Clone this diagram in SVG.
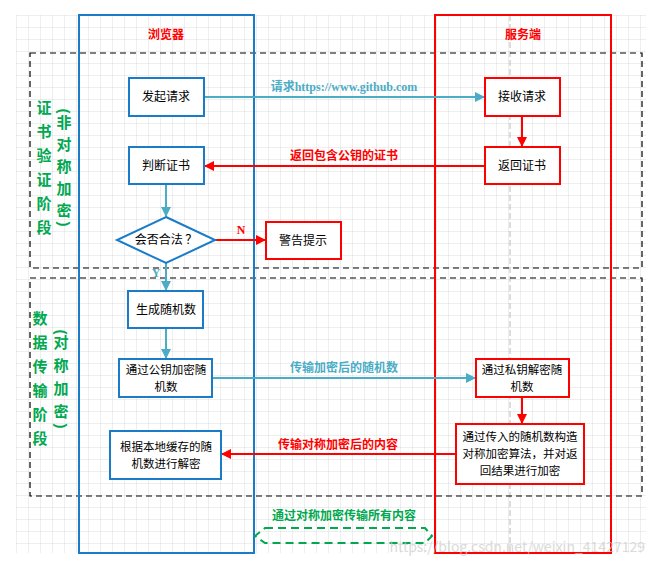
<svg xmlns="http://www.w3.org/2000/svg" width="659" height="563" viewBox="0 0 659 563">
<defs>
<pattern id="grid" width="12" height="12" patternUnits="userSpaceOnUse" x="16" y="15"><path d="M12 0H0V12" fill="none" stroke="#d6d6d6" stroke-width="0.8"/></pattern>
<marker id="ab" markerWidth="10" markerHeight="10" refX="9" refY="5" orient="auto" markerUnits="userSpaceOnUse"><path d="M0 0L10 5L0 10z" fill="#4bacc6"/></marker>
<marker id="ar" markerWidth="10" markerHeight="10" refX="9" refY="5" orient="auto" markerUnits="userSpaceOnUse"><path d="M0 0L10 5L0 10z" fill="#ff0000"/></marker>
<style>
text{font-family:"Noto Sans CJK SC","Liberation Sans",sans-serif;}
.n{fill:#fff;stroke:#1a7cc9;stroke-width:2}
.r{fill:#fff;stroke:#ff0000;stroke-width:2}
.t{font-size:12px;fill:#000;text-anchor:middle}
.m{font-size:11.5px;fill:#000;text-anchor:middle}
.lb{stroke:#4bacc6;stroke-width:2;fill:none}
.lr{stroke:#ff0000;stroke-width:2;fill:none}
.g{font-size:15px;font-weight:bold;fill:#00a84f;text-anchor:middle}
.p{font-family:"Liberation Sans",sans-serif;font-size:15px;font-weight:bold;fill:#00a84f;text-anchor:middle}
.cl{font-family:"Liberation Serif","Noto Sans CJK SC",serif;font-weight:bold;font-size:12px;text-anchor:middle}
</style>
</defs>
<rect width="659" height="563" fill="#fff"/>
<rect x="16" y="15" width="630" height="538" fill="url(#grid)"/>
<line x1="510" y1="15" x2="510" y2="553" stroke="#bbb" stroke-dasharray="6,3"/>
<rect x="30" y="53" width="612" height="215" fill="none" stroke="#000" stroke-width="1.2" stroke-dasharray="6,4"/>
<rect x="30" y="278" width="612" height="218" fill="none" stroke="#000" stroke-width="1.2" stroke-dasharray="6,4"/>
<rect x="79" y="15" width="175" height="538" fill="none" stroke="#1a7cc9" stroke-width="2"/>
<rect x="435" y="15" width="176" height="538" fill="none" stroke="#ff0000" stroke-width="2"/>
<text x="166" y="39" class="cl" fill="#ff0000">浏览器</text>
<text x="523" y="39" class="cl" fill="#ff0000">服务端</text>
<g id="stage1"><text class="g"><tspan x="44" y="113">证</tspan><tspan x="44" y="137">书</tspan><tspan x="44" y="161">验</tspan><tspan x="44" y="185">证</tspan><tspan x="44" y="209">阶</tspan><tspan x="44" y="233">段</tspan></text>
<text class="p" transform="translate(64,111) rotate(90)" y="5">(</text>
<text class="g"><tspan x="64" y="128">非</tspan><tspan x="64" y="150">对</tspan><tspan x="64" y="172">称</tspan><tspan x="64" y="194">加</tspan><tspan x="64" y="216">密</tspan></text>
<text class="p" transform="translate(64,224) rotate(90)" y="5">)</text></g>
<g id="stage2"><text class="g"><tspan x="40" y="324">数</tspan><tspan x="40" y="348">据</tspan><tspan x="40" y="372">传</tspan><tspan x="40" y="396">输</tspan><tspan x="40" y="420">阶</tspan><tspan x="40" y="444">段</tspan></text>
<text class="p" transform="translate(61,332) rotate(90)" y="5">(</text>
<text class="g"><tspan x="61" y="348">对</tspan><tspan x="61" y="371">称</tspan><tspan x="61" y="394">加</tspan><tspan x="61" y="417">密</tspan></text>
<text class="p" transform="translate(61,426) rotate(90)" y="5">)</text></g>
<g id="connectors">
<line x1="204" y1="97" x2="484" y2="97" class="lb" marker-end="url(#ab)"/>
<line x1="485" y1="166" x2="205" y2="166" class="lr" marker-end="url(#ar)"/>
<line x1="166" y1="184" x2="166" y2="216" class="lb" marker-end="url(#ab)"/>
<line x1="215" y1="240" x2="265" y2="240" class="lr" marker-end="url(#ar)"/>
<line x1="166" y1="263" x2="166" y2="290" class="lb" marker-end="url(#ab)"/>
<line x1="166" y1="328" x2="166" y2="358" class="lb" marker-end="url(#ab)"/>
<line x1="212" y1="378" x2="475" y2="378" class="lb" marker-end="url(#ab)"/>
<line x1="522" y1="116" x2="522" y2="146" class="lr" marker-end="url(#ar)"/>
<line x1="522" y1="397" x2="522" y2="423" class="lr" marker-end="url(#ar)"/>
<line x1="456" y1="454" x2="222" y2="454" class="lr" marker-end="url(#ar)"/>
<text x="344" y="91" class="cl" fill="#4bacc6">请求https://www.github.com</text>
<text x="344" y="160" class="cl" fill="#ff0000">返回包含公钥的证书</text>
<text x="241" y="234" class="cl" fill="#ff0000">N</text>
<text x="156" y="277" class="cl" fill="#4bacc6">Y</text>
<text x="344" y="372" class="cl" fill="#4bacc6">传输加密后的随机数</text>
<text x="338" y="449" class="cl" fill="#ff0000">传输对称加密后的内容</text>
</g>
<g id="n1"><rect x="129" y="78" width="75" height="38" class="n"/><text x="166" y="101" class="t">发起请求</text></g>
<g id="n2"><rect x="129" y="147" width="75" height="37" class="n"/><text x="166" y="170" class="t">判断证书</text></g>
<g id="n3"><polygon points="166,217 215,240 166,263 117,240" class="n"/><text x="166" y="244" class="t">会否合法 ？</text></g>
<g id="n4"><rect x="266" y="222" width="75" height="37" class="r"/><text x="303" y="245" class="t">警告提示</text></g>
<g id="n5"><rect x="485" y="78" width="75" height="38" class="r"/><text x="522" y="101" class="t">接收请求</text></g>
<g id="n6"><rect x="485" y="147" width="75" height="37" class="r"/><text x="522" y="170" class="t">返回证书</text></g>
<g id="n7"><rect x="128" y="291" width="75" height="37" class="n"/><text x="166" y="314" class="t">生成随机数</text></g>
<g id="n8"><rect x="119" y="359" width="93" height="38" class="n"/><text x="166" y="374" class="m">通过公钥加密随</text><text x="166" y="391" class="m">机数</text></g>
<g id="n9"><rect x="110" y="431" width="111" height="48" class="n"/><text x="166" y="451" class="m">根据本地缓存的随</text><text x="166" y="468" class="m">机数进行解密</text></g>
<g id="n10"><rect x="476" y="359" width="93" height="38" class="r"/><text x="522" y="374" class="m">通过私钥解密随</text><text x="522" y="391" class="m">机数</text></g>
<g id="n11"><rect x="456" y="424" width="128" height="60" class="r"/><text x="520" y="441" class="m">通过传入的随机数构造</text><text x="520" y="458" class="m">对称加密算法，并对返</text><text x="520" y="475" class="m">回结果进行加密</text></g>
<g id="note"><text x="344" y="520" class="cl" fill="#00a84f">通过对称加密传输所有内容</text>
<path d="M265 528H425L432 536L425 543H265L255 536Z" fill="none" stroke="#00a84f" stroke-width="2" stroke-dasharray="8,5"/></g>
<text x="645" y="552" font-size="14" fill="#ccc" text-anchor="end" opacity="0.7">https://blog.csdn.net/weixin_41427129</text>
</svg>
